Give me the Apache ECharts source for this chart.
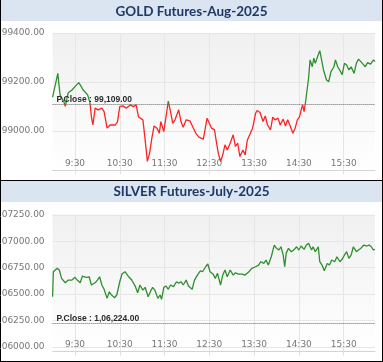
<!DOCTYPE html>
<html><head><meta charset="utf-8">
<script src="https://cdn.jsdelivr.net/npm/echarts@6/dist/echarts.min.js"></script>
<style>html,body{margin:0;padding:0;background:#fff;}#c{width:383px;height:362px;}</style>
</head><body><div id="c"></div>
<script>
// ---- data ----
const goldTitle = 'GOLD Futures-Aug-2025';
const silverTitle = 'SILVER Futures-July-2025';
const timeLabels = ['9:30','10:30','11:30','12:30','13:30','14:30','15:30'];
const goldYTicks = [99000, 99200, 99400];
const silverYTicks = [106000, 106250, 106500, 106750, 107000, 107250];
const goldPrevClose = 99109;
const silverPrevClose = 106224;
const goldPrevCloseText = 'P.Close : 99,109.00';
const silverPrevCloseText = 'P.Close : 1,06,224.00';

const goldTimes = ['9:00','9:07','9:10','9:15','9:17','9:21','9:26','9:30','9:35','9:37','9:39','9:41','9:47','9:50','9:52','9:54','9:57','10:01','10:06','10:09','10:13','10:17','10:24','10:27','10:30','10:34','10:39','10:44','10:48','10:52','10:55','11:01','11:04','11:07','11:10','11:13','11:16','11:20','11:23','11:25','11:29','11:31','11:33','11:35','11:38','11:41','11:44','11:49','11:52','11:55','11:59','12:04','12:08','12:12','12:16','12:18','12:22','12:27','12:30','12:33','12:37','12:39','12:42','12:45','12:48','12:51','12:54','12:58','13:02','13:05','13:08','13:11','13:15','13:18','13:21','13:25','13:28','13:32','13:34','13:38','13:42','13:45','13:48','13:52','13:55','13:58','14:02','14:05','14:09','14:12','14:15','14:19','14:22','14:25','14:28','14:31','14:33','14:35','14:37','14:39','14:41','14:43','14:45','14:48','14:50','14:52','14:55','14:58','15:00','15:03','15:07','15:10','15:13','15:17','15:19','15:22','15:26','15:28','15:31','15:34','15:37','15:40','15:44','15:47','15:50','15:53','15:56','15:59','16:02','16:06','16:10','16:12'];
const goldValues = [99138,99235,99147,99120,99100,99156,99167,99181,99197,99188,99181,99167,99147,99116,99058,99024,99093,99086,99093,99079,99011,99024,99024,99038,99099,99102,99093,99106,99099,99106,99058,99045,98963,98875,98909,98970,99020,99011,98990,99038,98997,99038,99079,99122,99079,99031,99045,99086,99038,99015,99045,99041,99015,98990,98974,98970,98966,99052,99031,99011,99004,98963,98909,98875,98902,98943,98922,98950,98984,98936,98950,98895,98922,98902,98963,98990,99011,99072,99083,99075,99038,99061,99024,99004,99056,99045,99052,99024,99048,99020,99045,99015,98990,99011,99045,99058,99086,99106,99079,99120,99167,99215,99290,99262,99297,99276,99303,99328,99297,99249,99208,99201,99242,99262,99290,99262,99242,99229,99276,99269,99249,99262,99235,99276,99293,99283,99273,99262,99279,99273,99290,99283];

const silverTimes = ['9:00','9:01','9:03','9:06','9:09','9:12','9:17','9:21','9:26','9:30','9:33','9:37','9:40','9:45','9:49','9:52','9:57','10:00','10:03','10:06','10:09','10:13','10:16','10:19','10:23','10:26','10:30','10:33','10:37','10:42','10:46','10:51','10:54','10:57','11:01','11:04','11:08','11:11','11:14','11:17','11:21','11:24','11:26','11:29','11:32','11:35','11:38','11:42','11:46','11:49','11:52','11:55','11:59','12:02','12:07','12:10','12:14','12:18','12:21','12:25','12:28','12:31','12:35','12:38','12:41','12:45','12:48','12:51','12:54','12:58','13:02','13:05','13:09','13:14','13:18','13:23','13:27','13:32','13:36','13:39','13:43','13:46','13:49','13:53','13:55','13:57','14:00','14:03','14:06','14:09','14:11','14:13','14:16','14:20','14:23','14:27','14:30','14:33','14:37','14:40','14:43','14:47','14:49','14:52','14:56','14:58','15:01','15:04','15:08','15:11','15:14','15:18','15:21','15:25','15:28','15:31','15:34','15:37','15:40','15:43','15:47','15:50','15:53','15:57','16:01','16:04','16:07','16:10','16:12'];
const silverValues = [106475,106712,106728,106744,106728,106649,106607,106633,106633,106659,106633,106607,106671,106659,106664,106586,106607,106633,106664,106586,106545,106459,106522,106491,106465,106491,106617,106690,106712,106664,106633,106570,106513,106586,106538,106564,106475,106522,106564,106538,106459,106491,106450,106564,106576,106545,106586,106570,106617,106602,106617,106586,106633,106576,106545,106630,106680,106720,106712,106759,106785,106712,106690,106649,106697,106586,106680,106728,106664,106728,106680,106702,106690,106690,106680,106712,106744,106759,106775,106807,106791,106823,106775,106854,106870,106965,106934,106918,106949,106870,106759,106886,106934,106902,106918,106949,106918,106956,106924,106965,106981,106918,106949,106902,106949,106807,106775,106721,106791,106775,106823,106807,106854,106807,106830,106870,106902,106839,106870,106949,106902,106918,106934,106965,106956,106965,106949,106918,106925];

// ---- axis categories: every minute of the session ----
const sessionStart = 9 * 60, sessionEnd = 16 * 60 + 12;
const minuteCats = [];
for (let m = sessionStart; m <= sessionEnd; m++) {
  minuteCats.push(Math.floor(m / 60) + ':' + String(m % 60).padStart(2, '0'));
}
const isLabel = (i, v) => timeLabels.indexOf(v) >= 0;

const GREEN = '#2f8f2f', RED = '#ff2222';
const gridBg = {type:'linear', x:0, y:0, x2:0, y2:1, colorStops:[{offset:0,color:'#f0f0f0'},{offset:1,color:'#ffffff'}]};
const axisFont = 'DejaVu Sans';

function xAxisOpt(gi) {
  return {
    type:'category', gridIndex:gi, data:minuteCats, boundaryGap:false,
    axisLine:{show:true, lineStyle:{color:'#d4d4d4', width:1}},
    axisTick:{show:true, interval:isLabel, length:4, lineStyle:{color:'#e0e0e0'}},
    axisLabel:{inside:true, interval:isLabel, margin:2, color:'#777', fontSize:9, fontFamily:axisFont},
    splitLine:{show:true, interval:isLabel, lineStyle:{color:'#e6e6e6', width:1}}
  };
}
function yAxisOpt(gi, min, max, ticks) {
  return {
    type:'value', gridIndex:gi, min:min, max:max, scale:true,
    axisLine:{show:false},
    axisTick:{show:false, customValues:ticks},
    axisLabel:{customValues:ticks, margin:8, color:'#777', fontSize:9, fontFamily:axisFont,
      formatter:(v)=>Number(v).toFixed(2)},
    splitLine:{show:true, lineStyle:{color:'#e6e6e6', width:1}}
  };
}
function pcMark(val, text) {
  return {
    symbol:'none', silent:true, animation:false,
    lineStyle:{type:'dotted', color:'#666', width:1},
    label:{show:true, position:'insideStartTop', distance:[4,0], formatter:text,
      color:'#2a2a2a', fontWeight:'bold', fontSize:8.5, fontFamily:'Liberation Sans'},
    data:[{yAxis:val}]
  };
}

const chart = echarts.init(document.getElementById('c'), null, {renderer:'canvas'});
const gridCommon = {left:52.6, right:8, height:137, show:true, backgroundColor:gridBg, borderWidth:0,
  containLabel:false, outerBoundsMode:'none'};
chart.setOption({
  animation:false,
  backgroundColor:'#fff',
  grid:[
    Object.assign({top:33}, gridCommon),
    Object.assign({top:214.5}, gridCommon)
  ],
  xAxis:[xAxisOpt(0), xAxisOpt(1)],
  yAxis:[yAxisOpt(0, 98840, 99400, goldYTicks), yAxisOpt(1, 105955, 107255, silverYTicks)],
  series:[
    {type:'line', xAxisIndex:0, yAxisIndex:0, showSymbol:false, symbol:'none',
      lineStyle:{width:1.3, color:GREEN}, itemStyle:{color:GREEN},
      data:goldTimes.map((t,i)=>[t, goldValues[i]]),
      markLine:pcMark(goldPrevClose, goldPrevCloseText)},
    {type:'line', xAxisIndex:1, yAxisIndex:1, showSymbol:false, symbol:'none',
      lineStyle:{width:1.3, color:GREEN}, itemStyle:{color:GREEN},
      data:silverTimes.map((t,i)=>[t, silverValues[i]]),
      markLine:pcMark(silverPrevClose, silverPrevCloseText)}
  ],
  graphic:[
    {type:'rect', shape:{x:0, y:0, width:383, height:21}, style:{fill:'#dbe5f1'}, silent:true},
    {type:'rect', shape:{x:0, y:181, width:383, height:21}, style:{fill:'#dbe5f1'}, silent:true},
    {type:'text', x:191.5, y:12, style:{text:goldTitle, font:'bold 13.5px Lato', fill:'#1f3864', align:'center', verticalAlign:'middle'}, silent:true},
    {type:'text', x:191.5, y:192, style:{text:silverTitle, font:'bold 13.5px Lato', fill:'#1f3864', align:'center', verticalAlign:'middle'}, silent:true},
    {type:'line', shape:{x1:0, y1:180.5, x2:383, y2:180.5}, style:{stroke:'#000', lineWidth:1}, silent:true},
    {type:'line', shape:{x1:0, y1:361.5, x2:383, y2:361.5}, style:{stroke:'#000', lineWidth:1}, silent:true},
    {type:'line', shape:{x1:0.5, y1:0, x2:0.5, y2:362}, style:{stroke:'#000', lineWidth:1}, silent:true},
    {type:'line', shape:{x1:382.5, y1:0, x2:382.5, y2:362}, style:{stroke:'#000', lineWidth:1}, silent:true}
  ]
});

// colour the gold line green above / red below the previous close, split at the
// pixel position the y-axis scale gives for the previous close
const yTop = chart.convertToPixel({yAxisIndex:0}, 99400);
const yBot = chart.convertToPixel({yAxisIndex:0}, 98840);
const yPc = chart.convertToPixel({yAxisIndex:0}, goldPrevClose);
const f = (yPc - yTop) / (yBot - yTop);
chart.setOption({series:[{lineStyle:{color:{type:'linear', global:true, x:0, y:yTop, x2:0, y2:yBot,
  colorStops:[{offset:0,color:GREEN},{offset:f,color:GREEN},{offset:f,color:RED},{offset:1,color:RED}]}}}]});
</script></body></html>
